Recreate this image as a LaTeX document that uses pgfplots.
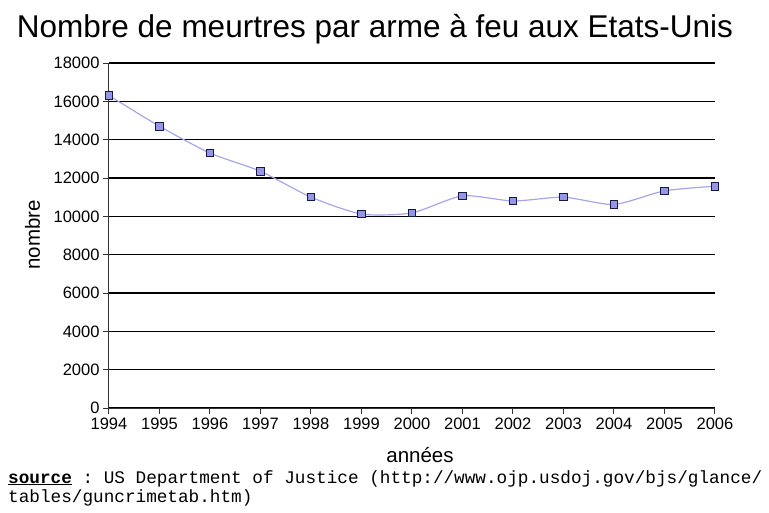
\documentclass[border=0pt]{standalone}
\usepackage{fontspec}
\setmainfont{Liberation Sans}
\setmonofont{Liberation Mono}
\usepackage{pgfplots}
\pgfplotsset{compat=1.18}
\definecolor{linecol}{RGB}{165,165,235}
\definecolor{markfill}{RGB}{150,150,230}
\definecolor{markedge}{RGB}{25,25,70}

\begin{document}
\begin{tikzpicture}[x=1pt,y=1pt]
\useasboundingbox (-109,-104) rectangle (660,408);
\begin{axis}[
  at={(0,0)}, anchor=south west,
  scale only axis, width=606pt, height=345pt,
  xmin=1994, xmax=2006, ymin=0, ymax=18000,
  xtick={1994,...,2006}, ytick={0,2000,...,18000},
  axis x line=bottom, axis y line=left,
  axis line style={-, line width=1pt, black!80},
  tick align=outside, major tick length=6pt,
  tick style={line width=1pt, black!80},
  ymajorgrids, grid style={black, line width=1.2pt},
  scaled ticks=false,
  xticklabel style={/pgf/number format/1000 sep={}},
  yticklabel style={/pgf/number format/1000 sep={}},
  /pgf/number format/assume math mode=true,
  ticklabel style={font=\fontsize{16.5}{19}\selectfont},
  clip=false,
]
% gun homicides per year
\addplot[color=linecol, line width=1.2pt, smooth, tension=0.4,
  mark=square*, mark size=3.8pt,
  mark options={fill=markfill, draw=markedge, line width=1pt}]
  coordinates {
  (1994,16300) (1995,14700) (1996,13300) (1997,12350) (1998,11000)
  (1999,10120) (2000,10180) (2001,11070) (2002,10800) (2003,11000)
  (2004,10620) (2005,11330) (2006,11570)
  };
\end{axis}
\node[anchor=base, font=\fontsize{31.5}{34}\selectfont] at (266,370)
  {Nombre de meurtres par arme à feu aux Etats-Unis};
\node[anchor=base, font=\fontsize{20.5}{22}\selectfont] at (311,-54) {années};
\node[anchor=base, rotate=90, font=\fontsize{20.5}{22}\selectfont] at (-69,173) {nombre};
\node[anchor=base west, align=left, inner sep=0pt,
  font=\ttfamily\fontsize{17.7}{19}\selectfont] at (-101,-94)
  {\underline{\textbf{source}} : US Department of Justice (http://www.ojp.usdoj.gov/bjs/glance/\\
   tables/guncrimetab.htm)};
\end{tikzpicture}
\end{document}
